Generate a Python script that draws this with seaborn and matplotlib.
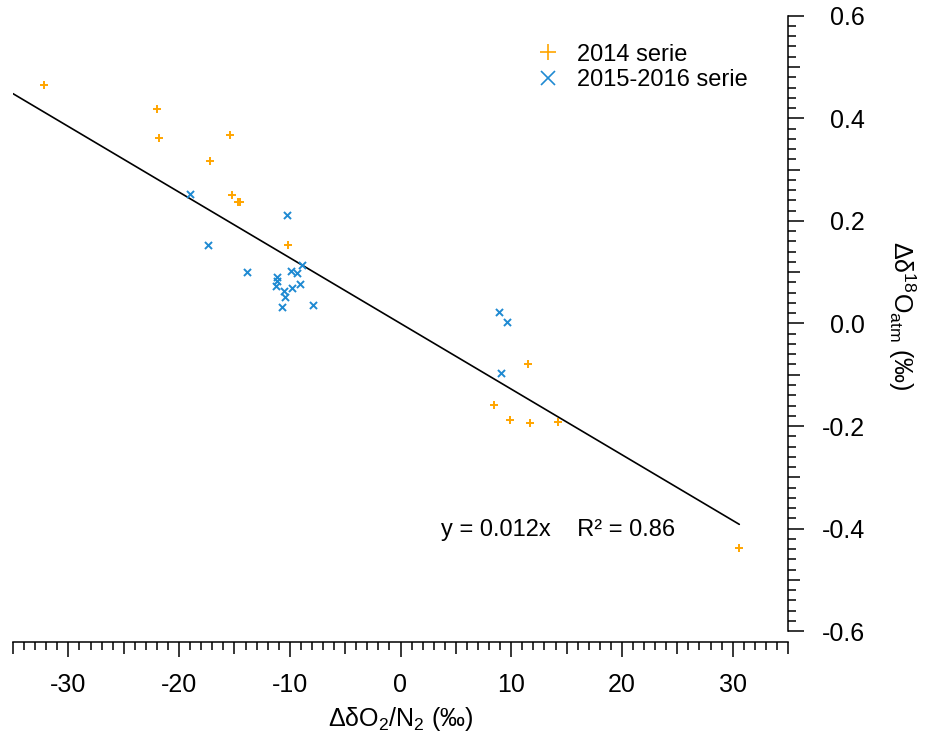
import numpy as np
import pandas as pd
import matplotlib
matplotlib.use("Agg")
import matplotlib.pyplot as plt
from matplotlib.lines import Line2D
from matplotlib.ticker import MultipleLocator, FuncFormatter
import seaborn as sns

# 2014 serie (dO2/N2 vs d18Oatm)
x_2014 = [-32.2, -22.0, -21.8, -15.4, -17.2, -15.2, -14.7, -14.5, -10.2,
          11.5, 8.4, 9.9, 11.7, 14.2, 30.6]
y_2014 = [0.465, 0.419, 0.362, 0.368, 0.316, 0.250, 0.237, 0.237, 0.153,
          -0.079, -0.159, -0.188, -0.194, -0.192, -0.438]

# 2015-2016 serie
x_2015 = [-19.05, -10.27, -17.37, -13.90, -9.91, -8.87, -9.37, -11.20, -11.17,
          -11.23, -10.54, -9.82, -9.07, -10.40, -10.72, -7.93, 8.89, 9.59, 9.10]
y_2015 = [0.252, 0.211, 0.153, 0.100, 0.103, 0.113, 0.098, 0.091, 0.083,
          0.073, 0.063, 0.069, 0.077, 0.052, 0.033, 0.035, 0.023, 0.003, -0.096]

# fit line (through origin)
fit_slope = -0.0128
fit_x = np.array([-35.0, 30.6])
fit_text = "y = 0.012x    R\u00b2 = 0.86"

orange = "#ffa500"
blue = "#1f8ad2"

sns.set_style("ticks")
plt.rcParams.update({
    "font.family": ["Liberation Sans", "DejaVu Sans"],
    "mathtext.fontset": "custom",
    "mathtext.rm": "Liberation Sans",
    "mathtext.it": "Liberation Sans:italic",
    "mathtext.bf": "Liberation Sans:bold",
    "axes.linewidth": 1.1,
    "text.color": "black",
    "axes.labelcolor": "black",
    "axes.edgecolor": "black",
    "xtick.color": "black",
    "ytick.color": "black",
})

df14 = pd.DataFrame({"x": x_2014, "y": y_2014})
df15 = pd.DataFrame({"x": x_2015, "y": y_2015})
df_fit = pd.DataFrame({"x": fit_x, "y": fit_slope * fit_x})

fig = plt.figure(figsize=(9.41, 7.38), dpi=100)
ax = fig.add_axes([13 / 941, 1 - 631.2 / 738, 775 / 941, 615.5 / 738])

sns.lineplot(data=df_fit, x="x", y="y", color="black", linewidth=1.2, ax=ax)
sns.scatterplot(data=df14, x="x", y="y", marker="+", color=orange, s=40,
                linewidth=1.4, ax=ax, zorder=3)
sns.scatterplot(data=df15, x="x", y="y", marker="x", color=blue, s=26,
                linewidth=1.4, ax=ax, zorder=3)

ax.set_xlim(-35, 35)
ax.set_ylim(-0.6, 0.6)

# Igor-like axes: y axis on the right, x axis offset below
ax.spines["left"].set_visible(False)
ax.spines["top"].set_visible(False)
ax.spines["bottom"].set_position(("outward", 8))
ax.yaxis.tick_right()
ax.yaxis.set_label_position("right")

ax.xaxis.set_major_locator(MultipleLocator(5))
ax.xaxis.set_minor_locator(MultipleLocator(1))
ax.yaxis.set_major_locator(MultipleLocator(0.1))
ax.yaxis.set_minor_locator(MultipleLocator(0.02))
ax.xaxis.set_major_formatter(FuncFormatter(
    lambda v, p: f"{int(round(v))}" if int(round(v)) % 10 == 0 else ""))
ax.yaxis.set_major_formatter(FuncFormatter(
    lambda v, p: f"{round(v, 1) + 0.0:.1f}" if int(round(v * 10)) % 2 == 0 else ""))

ax.tick_params(axis="x", which="major", length=10.8, width=1.1, direction="out",
               labelsize=18, pad=11)
ax.tick_params(axis="x", which="minor", length=6.0, width=1.1, direction="out")
ax.tick_params(axis="y", which="major", length=11.5, width=1.1, direction="out",
               labelsize=18, pad=44)
ax.tick_params(axis="y", which="minor", length=6.0, width=1.1, direction="out")

# medium ticks at 5 / 0.1 steps
xlocs = ax.xaxis.get_majorticklocs()
for t, loc in zip(ax.xaxis.get_major_ticks(len(xlocs)), xlocs):
    if int(round(loc)) % 10 != 0:
        t.tick1line.set_markersize(8.5)
ylocs = ax.yaxis.get_majorticklocs()
for t, loc in zip(ax.yaxis.get_major_ticks(len(ylocs)), ylocs):
    t.label2.set_horizontalalignment("right")
    if int(round(loc * 10)) % 2 != 0:
        t.tick2line.set_markersize(8.5)

ax.set_xlabel("")
ax.set_ylabel("")
fig.text(401 / 941, 1 - 719 / 738, "\u0394\u03b4O$_2$/N$_2$ (\u2030)",
         fontsize=18, ha="center", va="center")
fig.text(902 / 941, 1 - 316 / 738, "\u0394\u03b4$^{18}$O$_{\\mathrm{atm}}$ (\u2030)",
         fontsize=18, ha="center", va="center", rotation=-90)

ax.text(3.7, -0.403, fit_text, fontsize=17, ha="left", va="center")

handles = [
    Line2D([], [], marker="+", color=orange, linestyle="none", markersize=12,
           markeredgewidth=1.2),
    Line2D([], [], marker="x", color=blue, linestyle="none", markersize=10,
           markeredgewidth=1.2),
]
ax.legend(handles, ["2014 serie", "2015-2016 serie"], frameon=False, fontsize=17,
          loc="upper left", bbox_to_anchor=(520 / 941, 1 - 27 / 738),
          bbox_transform=fig.transFigure, handlelength=1.0, handletextpad=0.7,
          labelspacing=0.15, borderpad=0.2)

fig.savefig("out.png", dpi=100)
